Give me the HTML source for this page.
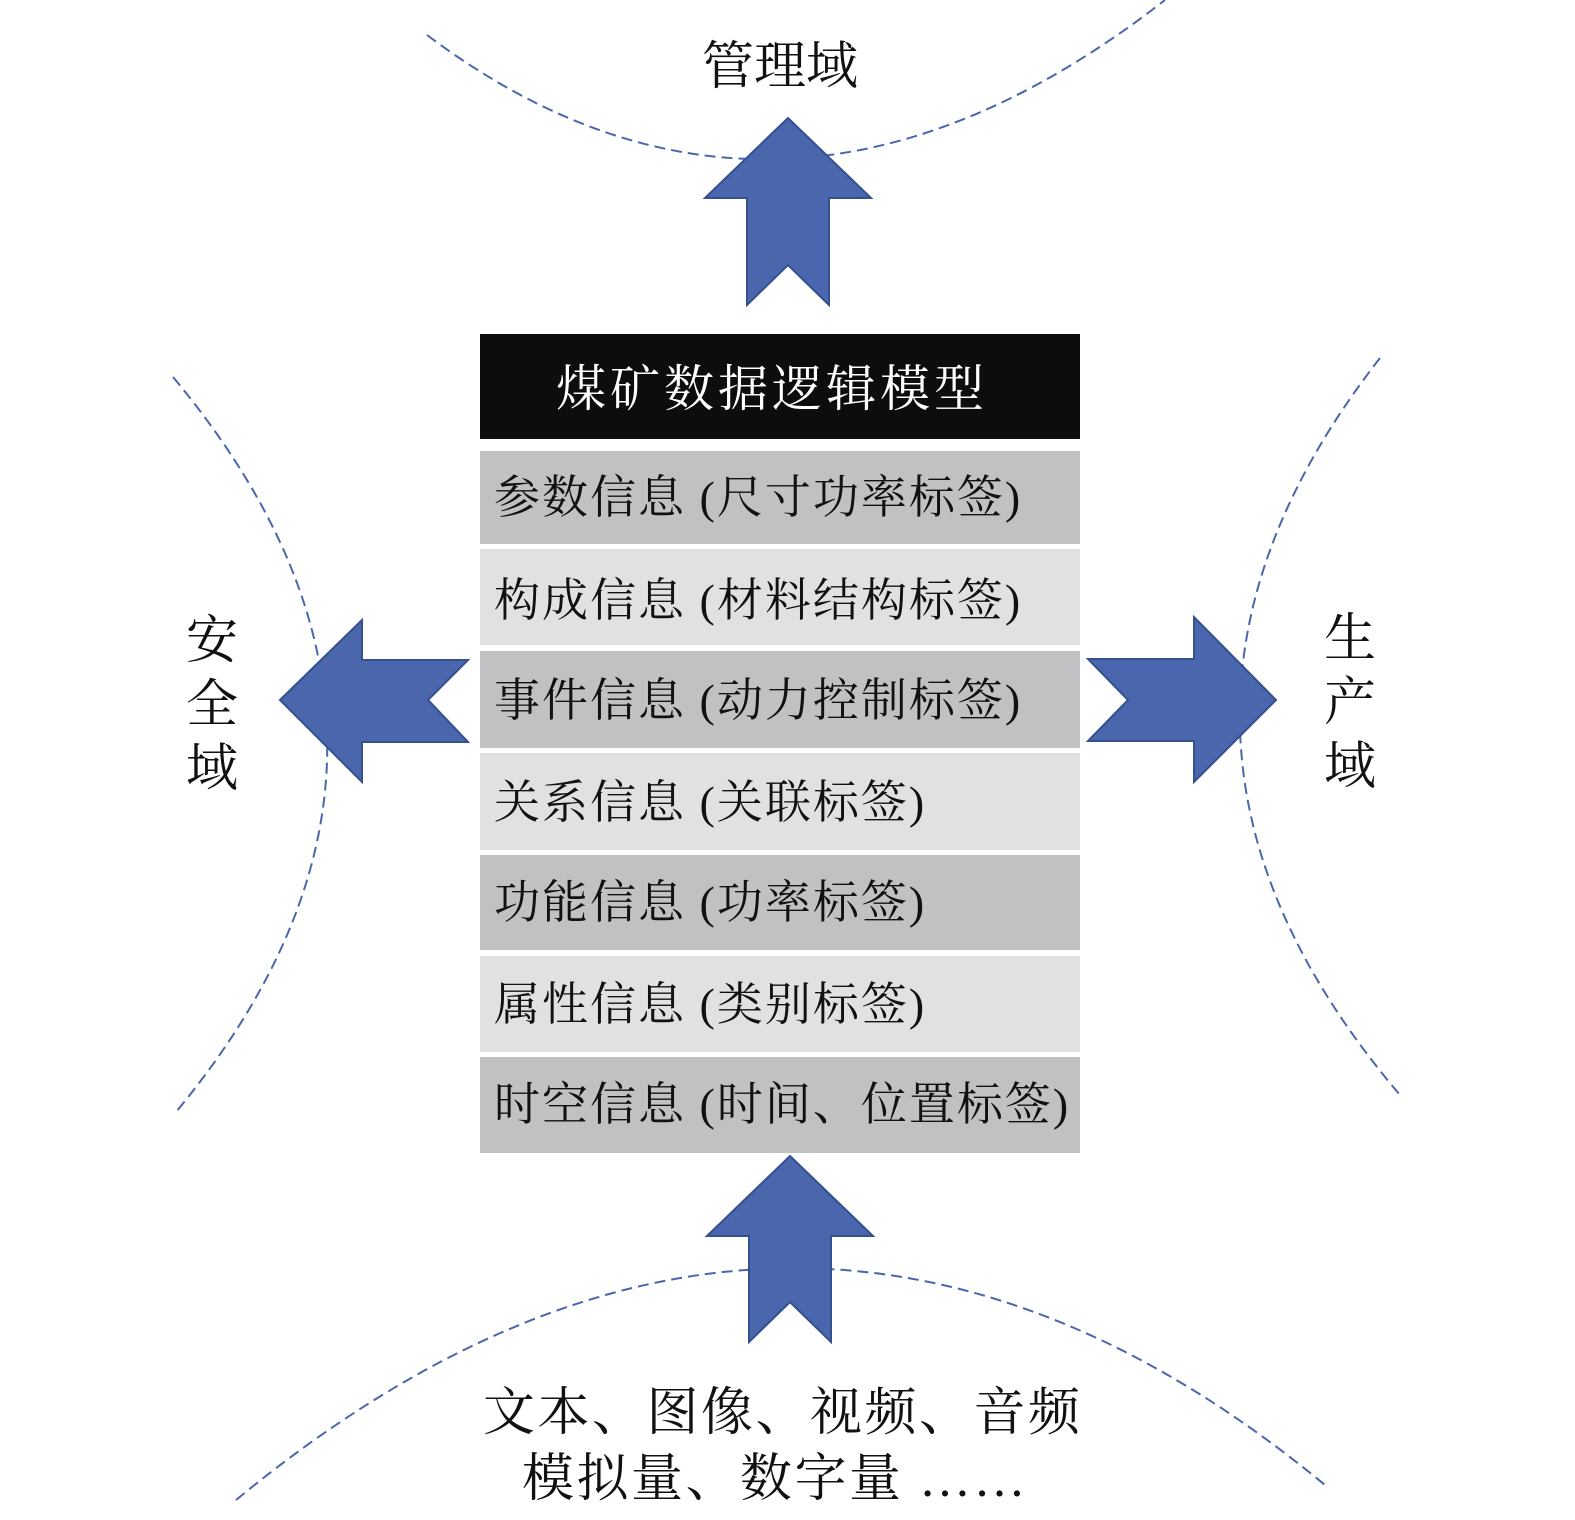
<!DOCTYPE html>
<html><head><meta charset="utf-8"><style>
body{margin:0;background:#fff}
svg{display:block}
text{font-family:"Liberation Serif","Noto Serif CJK SC",serif}
</style></head><body>
<svg width="1575" height="1520" viewBox="0 0 1575 1520" xmlns="http://www.w3.org/2000/svg">
<g fill="none" stroke="#4a67ad" stroke-width="2" stroke-dasharray="11,6">
<path d="M427,35 Q780,300 1165,0"/>
<path d="M173,377 Q480,745 176,1112"/>
<path d="M1380,358 Q1090,730 1400,1095"/>
<path d="M236,1500 Q790,1044 1325,1485"/>
</g>
<g fill="#4a67ad" stroke="#34508f" stroke-width="2">
<polygon points="788,118 871,198 829,198 829,305 788,265 747,305 747,198 705,198"/>
<polygon points="790,1156 873,1236 831,1236 831,1342 790,1302 749,1342 749,1236 707,1236"/>
<polygon points="280,700 362,620 362,660 468,660 428,700 468,742 362,742 362,782"/>
<polygon points="1276,700 1194,617 1194,659 1088,659 1128,700 1088,741 1194,741 1194,782"/>
</g>
<rect x="480" y="334" width="600" height="105" fill="#0d0d0d"/>
<rect x="480" y="451" width="600" height="93" fill="#c0c1c3"/>
<rect x="480" y="549" width="600" height="96" fill="#e1e1e1"/>
<rect x="480" y="651" width="600" height="97" fill="#c0c1c3"/>
<rect x="480" y="753" width="600" height="97" fill="#e1e1e1"/>
<rect x="480" y="855" width="600" height="95" fill="#c0c1c3"/>
<rect x="480" y="956" width="600" height="96" fill="#e1e1e1"/>
<rect x="480" y="1057" width="600" height="96" fill="#c0c1c3"/>
<text x="556" y="406" font-size="50" fill="#fff" letter-spacing="4">煤矿数据逻辑模型</text>
<g font-size="46" fill="#111" letter-spacing="2">
<text x="494" y="513">参数信息 (尺寸功率标签)</text>
<text x="494" y="616">构成信息 (材料结构标签)</text>
<text x="494" y="716">事件信息 (动力控制标签)</text>
<text x="494" y="818">关系信息 (关联标签)</text>
<text x="494" y="918">功能信息 (功率标签)</text>
<text x="494" y="1020">属性信息 (类别标签)</text>
<text x="494" y="1120">时空信息 (时间、位置标签)</text>
</g>
<g font-size="52" fill="#111" text-anchor="middle">
<text x="780" y="84">管理域</text>
<text x="212" y="658">安</text><text x="212" y="722">全</text><text x="212" y="786">域</text>
<text x="1350" y="656">生</text><text x="1350" y="720">产</text><text x="1350" y="784">域</text>
</g>
<g font-size="52" fill="#111">
<text x="483" y="1430" letter-spacing="2.5">文本、图像、视频、音频</text>
<text x="522" y="1496" letter-spacing="2.5">模拟量、数字量 ……</text>
</g>
</svg>
</body></html>
